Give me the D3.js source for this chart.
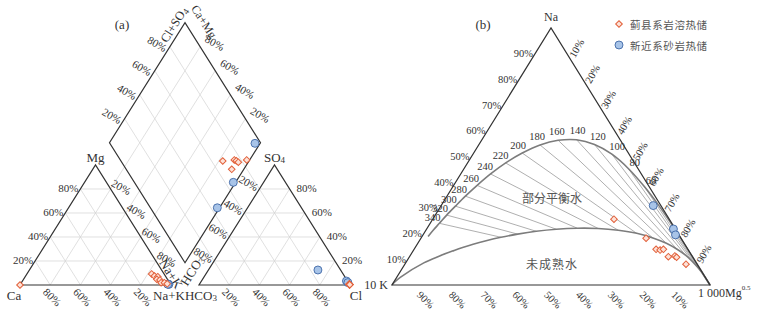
<!DOCTYPE html>
<html>
<head>
<meta charset="utf-8">
<script src="https://cdn.jsdelivr.net/npm/d3@7"></script>
<style>
body { margin: 0; background: #fff; }
svg { display: block; font-family: "Liberation Serif", "DejaVu Serif", serif; }
text { fill: #333; }
</style>
</head>
<body>
<svg id="chart" width="757" height="315"></svg>
<script>
var ticks = [20, 40, 60, 80];
var giggTicks = [10, 20, 30, 40, 50, 60, 70, 80, 90];

// Piper, cations [Ca, Mg, Na+K] %
var cationJx = [[100, 0, 0], [8.2, 9.2, 82.6], [7.2, 7.5, 85.3], [5.3, 6.9, 87.8], [7.0, 4.8, 88.2],
	[5.2, 4.2, 90.6], [5.6, 1.9, 92.5], [3.4, 1.9, 94.7], [2.0, 1.0, 97.0]];
var cationNg = [[1.5, 0.8, 97.7], [1.2, 0.5, 98.3], [1.8, 0.6, 97.6]];
// Piper, anions [HCO3, SO4, Cl] %
var anionJx = [[0, 0.4, 99.6], [0.2, 0.3, 99.5], [0.1, 0.6, 99.3], [0.3, 0.2, 99.5], [0, 0.8, 99.2],
	[0.2, 0.5, 99.3], [0.1, 0.2, 99.7], [0.3, 0.6, 99.1], [0, 0.3, 99.7]];
var anionNg = [[15.0, 12.5, 72.5], [0.7, 3.3, 96.0], [0.4, 2.0, 97.6]];
// Piper, diamond [Na+K, Cl+SO4] %
var diamondJx = [[82.6, 67.4], [89.8, 75.5], [91.5, 76.5], [93.4, 77.2], [98.0, 83.7], [92.0, 69.9]];
var diamondNg = [[96.6, 96.1], [98.5, 65.5], [98.5, 44.3]];

// Giggenbach [Na, K, Mg] %
var giggJx = [[25.6, 17.4, 57.0], [18.2, 11.0, 70.8], [13.9, 10.0, 76.1], [13.6, 8.9, 77.5], [13.9, 7.7, 78.4],
	[11.0, 7.6, 81.4], [11.3, 5.4, 83.3], [10.8, 5.1, 84.1], [8.1, 3.5, 88.4]];
var giggNg = [[30.9, 2.4, 66.7], [21.8, 0.6, 77.6], [19.5, 1.1, 79.4]];

var isoTemps = [340, 320, 300, 280, 260, 240, 220, 200, 180, 160, 140, 120, 100, 80, 60];
var isoTop = [[24.0, 73.1, 2.9], [27.2, 69.2, 3.6], [30.7, 64.8, 4.6], [34.6, 59.7, 5.8], [38.8, 53.9, 7.4],
	[43.2, 47.4, 9.4], [47.5, 40.5, 12.0], [51.4, 33.4, 15.3], [54.5, 26.2, 19.3], [56.3, 19.6, 24.1],
	[56.5, 13.7, 29.8], [54.7, 9.0, 36.4], [50.9, 5.4, 43.7], [45.3, 3.0, 51.8], [38.3, 1.5, 60.2]];
var isoBottom = [[18.6, 56.5, 25.0], [19.8, 50.6, 29.6], [20.9, 44.2, 34.9], [21.7, 37.5, 40.8], [22.1, 30.7, 47.2],
	[22.0, 24.2, 53.8], [21.3, 18.2, 60.5], [20.1, 13.0, 66.9], [18.3, 8.8, 72.9], [16.2, 5.6, 78.1],
	[13.9, 3.4, 82.7], [11.6, 1.9, 86.5], [9.3, 1.0, 89.7], [7.2, 0.5, 92.3], [5.3, 0.2, 94.5]];
var eqCurve = [[18.9, 79.2, 1.9], [21.3, 76.4, 2.3], [24.0, 73.1, 2.9], [27.2, 69.2, 3.6],
	[30.7, 64.8, 4.6], [34.6, 59.7, 5.8], [38.8, 53.9, 7.4], [43.2, 47.4, 9.4], [47.5, 40.5, 12.0],
	[51.4, 33.4, 15.3], [54.5, 26.2, 19.3], [56.3, 19.6, 24.1], [56.5, 13.7, 29.8], [54.7, 9.0, 36.4],
	[50.9, 5.4, 43.7], [45.3, 3.0, 51.8], [38.3, 1.5, 60.2], [30.6, 0.6, 68.8], [22.7, 0.2, 77.1],
	[15.6, 0.1, 84.3], [9.7, 0, 90.3], [0, 0, 100]];
var immatureCurve = [[0, 100, 0], [1.0, 98.8, 0.2], [3.0, 95.9, 1.1], [8.6, 85.7, 5.7], [11.2, 79.6, 9.2],
	[13.2, 74.4, 12.4], [14.6, 70.5, 14.9], [17.2, 61.8, 21.0], [18.6, 56.5, 25.0], [19.8, 50.6, 29.6],
	[20.9, 44.2, 34.9], [21.7, 37.5, 40.8], [22.1, 30.7, 47.2], [22.0, 24.2, 53.8], [21.3, 18.2, 60.5],
	[20.1, 13.0, 66.9], [18.3, 8.8, 72.9], [16.2, 5.6, 78.1], [13.9, 3.4, 82.7], [11.6, 1.9, 86.5],
	[9.3, 1.0, 89.7], [7.2, 0.5, 92.3], [5.3, 0.2, 94.5], [3.8, 0.1, 96.1], [0, 0, 100]];

var legendItems = ["蓟县系岩溶热储", "新近系砂岩热储"];

var svg = d3.select("#chart");
var line = d3.line();
var smooth = d3.line().curve(d3.curveCatmullRom.alpha(0.5));
var diamondSym = d3.symbol().type(d3.symbolSquare).size(22);
var circleSym = d3.symbol().type(d3.symbolCircle).size(50);

function label(g, x, y, txt, rot, anchor, size) {
	return g.append("text")
		.attr("transform", "translate(" + x + "," + y + ") rotate(" + (rot || 0) + ")")
		.attr("text-anchor", anchor || "middle")
		.attr("dominant-baseline", "central")
		.attr("font-size", size || 11)
		.text(txt);
}

function drawPoints(g, pts, fn, red) {
	pts.forEach(function(p) {
		var q = fn(p);
		if (red) {
			g.append("path").attr("d", diamondSym)
				.attr("transform", "translate(" + q[0] + "," + q[1] + ") rotate(45)")
				.attr("fill", "#fde2d8").attr("stroke", "#e2603a").attr("stroke-width", 1);
		} else {
			g.append("path").attr("d", circleSym)
				.attr("transform", "translate(" + q[0] + "," + q[1] + ")")
				.attr("fill", "#a8c4e8").attr("stroke", "#4068a6").attr("stroke-width", 0.9);
		}
	});
}

// ---------- (a) Piper ----------
var gap = 28 / 151;
var px = d3.scaleLinear().domain([0, 1]).range([20, 171]);
var py = d3.scaleLinear().domain([0, 1]).range([285, 165]);

function cat(c) { return [px(c[2] / 100 + c[1] / 200), py(c[1] / 100)]; }
function ani(a) { return [px(1 + gap + a[2] / 100 + a[1] / 200), py(a[1] / 100)]; }
function dia(d) {
	var n = d[0] / 100, m = d[1] / 100;
	return [px(0.5 + gap / 2 + (n + m) / 2), py(1 + gap - n + m)];
}

var piper = svg.append("g");
var grid = piper.append("g").attr("stroke", "#d2d2d2").attr("stroke-width", 0.7).attr("fill", "none");
var segs = [];
ticks.forEach(function(f) {
	var r = 100 - f;
	segs.push([cat([r, f, 0]), cat([0, f, r])]);
	segs.push([cat([f, r, 0]), cat([f, 0, r])]);
	segs.push([cat([r, 0, f]), cat([0, r, f])]);
	segs.push([ani([r, f, 0]), ani([0, f, r])]);
	segs.push([ani([f, r, 0]), ani([f, 0, r])]);
	segs.push([ani([r, 0, f]), ani([0, r, f])]);
	segs.push([dia([f, -gap * 100]), dia([f, 100])]);
	segs.push([dia([100 + gap * 100, f]), dia([0, f])]);
});
segs.forEach(function(s) { grid.append("path").attr("d", line(s)); });

var frame = piper.append("g").attr("stroke", "#333").attr("stroke-width", 1.2).attr("fill", "none");
frame.append("path").attr("d", line([cat([100, 0, 0]), cat([0, 0, 100]), cat([0, 100, 0])]) + "Z");
frame.append("path").attr("d", line([ani([100, 0, 0]), ani([0, 0, 100]), ani([0, 100, 0])]) + "Z");
frame.append("path").attr("d", line([dia([100, 0]), dia([100, 100]), dia([0, 100]), dia([0, 0])]) + "Z");

var pl = piper.append("g");
ticks.forEach(function(f) {
	var r = 100 - f, p;
	p = cat([r, f, 0]); label(pl, p[0] - 2, p[1] - 1, f + "%", 0, "end");
	p = cat([f, 0, r]); label(pl, p[0] - 5, p[1] + 5, f + "%", 45, "start");
	p = cat([0, r, f]); label(pl, p[0] + 2, p[1] - 7, f + "%", 30, "start");
	p = dia([0, f]); label(pl, p[0] - 4, p[1] + 2, f + "%", 30, "end");
	p = dia([r, 100]); label(pl, p[0] + 6, p[1] - 9, f + "%", 30, "start");
	p = ani([f, r, 0]); label(pl, p[0] - 2, p[1] - 1, f + "%", 30, "end");
	p = ani([0, f, r]); label(pl, p[0] + 7, p[1] - 1, f + "%", 0, "start");
	p = ani([r, 0, f]); label(pl, p[0] - 5, p[1] + 5, f + "%", 45, "start");
});

var c;
c = cat([0, 100, 0]); label(pl, c[0], c[1] - 8, "Mg", 0, "middle", 13);
c = cat([100, 0, 0]); label(pl, c[0] - 6, c[1] + 10, "Ca", 0, "middle", 13);
c = ani([0, 0, 100]); label(pl, c[0] + 6, c[1] + 10, "Cl", 0, "middle", 13);
c = ani([0, 100, 0]);
var so4 = label(pl, c[0], c[1] - 8, "SO", 0, "middle", 13);
so4.append("tspan").attr("font-size", 9).attr("dy", 3).text("4");
c = dia([100, 0]);
var nk = label(pl, c[0], 295, "Na+KHCO", 0, "middle", 13);
nk.append("tspan").attr("font-size", 9).attr("dy", 3).text("3");
label(pl, c[0] - 14, c[1] + 11, "Na+K", 58, "middle", 13);
var hc = label(pl, c[0] + 7, c[1] + 8, "HCO", -58, "middle", 13);
hc.append("tspan").attr("font-size", 9).attr("dy", 3).text("3");
c = dia([0, 100]);
var cs = label(pl, c[0] - 11, c[1] + 2, "Cl+SO", -58, "middle", 12.5);
cs.append("tspan").attr("font-size", 9).attr("dy", 3).text("4");
label(pl, c[0] + 19, c[1] - 1, "Ca+Mg", 58, "middle", 12);
label(pl, 122, 24, "(a)", 0, "middle", 13);

// ---------- (b) Giggenbach ----------
var gx = d3.scaleLinear().domain([0, 1]).range([392, 710]);
var gy = d3.scaleLinear().domain([0, 1]).range([285, 28]);
function gig(p) {
	var s = p[0] + p[1] + p[2];
	return [gx((p[2] + p[0] / 2) / s), gy(p[0] / s)];
}

var gg = svg.append("g");
var iso = gg.append("g").attr("stroke", "#9a9a9a").attr("stroke-width", 0.8);
isoTemps.forEach(function(t, i) {
	iso.append("path").attr("d", line([gig(isoTop[i]), gig(isoBottom[i])]));
});
gg.append("path").attr("d", smooth(eqCurve.map(gig)))
	.attr("fill", "none").attr("stroke", "#7c7c7c").attr("stroke-width", 1.6);
gg.append("path").attr("d", smooth(immatureCurve.map(gig)))
	.attr("fill", "none").attr("stroke", "#7c7c7c").attr("stroke-width", 1.6);
gg.append("path").attr("d", line([gig([0, 100, 0]), gig([0, 0, 100]), gig([100, 0, 0])]) + "Z")
	.attr("fill", "none").attr("stroke", "#333").attr("stroke-width", 1.2);

var gl = gg.append("g");
isoTemps.forEach(function(t, i) {
	var a = gig(isoTop[Math.max(i - 1, 0)]), b = gig(isoTop[Math.min(i + 1, isoTop.length - 1)]);
	var dx = b[0] - a[0], dy = b[1] - a[1], len = Math.sqrt(dx * dx + dy * dy);
	var p = gig(isoTop[i]);
	label(gl, p[0] + 9 * dy / len, p[1] - 9 * dx / len, t, 0, "middle", 10.5);
});
giggTicks.forEach(function(f) {
	var p;
	p = gig([f, 100 - f, 0]); label(gl, p[0] - 2, p[1], f + "%", 0, "end", 10.5);
	p = gig([100 - f, 0, f]); label(gl, p[0] + 5, p[1] + 3, f + "%", -60, "start", 10.5);
	p = gig([0, f, 100 - f]); label(gl, p[0] - 5, p[1] + 8, f + "%", 45, "start", 10.5);
});
c = gig([100, 0, 0]); label(gl, c[0], c[1] - 11, "Na", 0, "middle", 12);
c = gig([0, 100, 0]); label(gl, c[0] - 4, c[1], "10 K", 0, "end", 12);
c = gig([0, 0, 100]);
var mg = label(gl, c[0] - 12, c[1] + 8, "1 000Mg", 0, "start", 12);
mg.append("tspan").attr("font-size", 7).attr("dy", -5).text("0.5");
label(gl, 483, 24, "(b)", 0, "middle", 13);
label(gl, 552, 197, "部分平衡水", 0, "middle", 12).attr("font-family", "Noto Sans CJK SC").style("fill", "#555");
label(gl, 552, 263, "未成熟水", 0, "middle", 12).attr("font-family", "Noto Sans CJK SC").style("fill", "#555")
	.attr("letter-spacing", 1);

// points
drawPoints(piper, cationNg, cat, false);
drawPoints(piper, cationJx, cat, true);
drawPoints(piper, anionNg, ani, false);
drawPoints(piper, anionJx, ani, true);
drawPoints(piper, diamondNg, dia, false);
drawPoints(piper, diamondJx, dia, true);
drawPoints(gg, giggNg, gig, false);
drawPoints(gg, giggJx, gig, true);

// legend
var lg = svg.append("g").attr("transform", "translate(619,24)");
legendItems.forEach(function(name, i) {
	var row = lg.append("g").attr("transform", "translate(0," + i * 21 + ")");
	drawPoints(row, [0], function() { return [0, 0]; }, i === 0);
	label(row, 11, 0, name, 0, "start", 10.5).attr("font-family", "Noto Sans CJK SC")
		.attr("letter-spacing", 0.6).style("fill", "#555");
});
</script>
</body>
</html>
